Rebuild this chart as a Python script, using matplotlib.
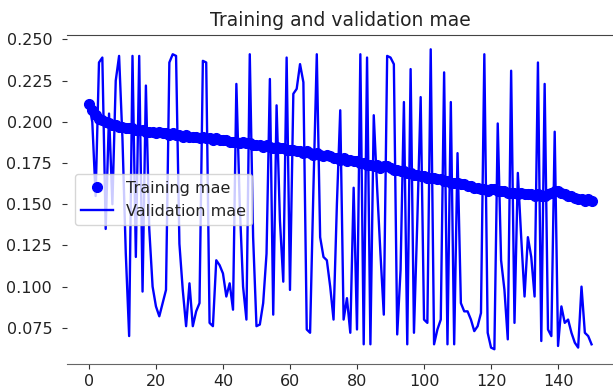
import matplotlib
matplotlib.use('Agg')
import matplotlib.pyplot as plt

# Training / validation MAE per epoch
train_mae = [
    0.211, 0.207, 0.204, 0.202, 0.201, 0.200, 0.199, 0.198, 0.198, 0.197,
    0.197, 0.196, 0.196, 0.196, 0.195, 0.195, 0.195, 0.194, 0.194, 0.194,
    0.193, 0.194, 0.193, 0.193, 0.192, 0.193, 0.192, 0.192, 0.191, 0.192,
    0.191, 0.191, 0.191, 0.190, 0.191, 0.190, 0.190, 0.189, 0.190, 0.189,
    0.189, 0.189, 0.188, 0.188, 0.188, 0.187, 0.188, 0.187, 0.187, 0.186,
    0.186, 0.186, 0.185, 0.186, 0.185, 0.184, 0.185, 0.184, 0.184, 0.183,
    0.183, 0.183, 0.182, 0.182, 0.181, 0.182, 0.181, 0.180, 0.181, 0.180,
    0.179, 0.180, 0.179, 0.178, 0.178, 0.177, 0.178, 0.176, 0.177, 0.176,
    0.176, 0.175, 0.175, 0.174, 0.174, 0.173, 0.174, 0.172, 0.173, 0.173,
    0.172, 0.171, 0.171, 0.170, 0.170, 0.169, 0.169, 0.168, 0.168, 0.167,
    0.167, 0.166, 0.166, 0.166, 0.165, 0.165, 0.164, 0.164, 0.163, 0.163,
    0.163, 0.162, 0.162, 0.161, 0.161, 0.160, 0.160, 0.159, 0.159, 0.158,
    0.159, 0.159, 0.158, 0.158, 0.158, 0.157, 0.157, 0.157, 0.156, 0.157,
    0.156, 0.156, 0.156, 0.155, 0.156, 0.155, 0.155, 0.156, 0.157, 0.158,
    0.158, 0.157, 0.156, 0.155, 0.155, 0.154, 0.153, 0.153, 0.152, 0.153,
    0.152,
]

val_mae = [
    0.211, 0.200, 0.155, 0.236, 0.239, 0.135, 0.205, 0.150, 0.225, 0.240,
    0.190, 0.120, 0.070, 0.240, 0.118, 0.240, 0.097, 0.222, 0.135, 0.100,
    0.088, 0.082, 0.090, 0.098, 0.236, 0.241, 0.240, 0.126, 0.098, 0.076,
    0.102, 0.076, 0.085, 0.090, 0.237, 0.236, 0.078, 0.076, 0.116, 0.113,
    0.108, 0.094, 0.102, 0.086, 0.223, 0.150, 0.100, 0.080, 0.241, 0.130,
    0.076, 0.077, 0.090, 0.120, 0.226, 0.083, 0.210, 0.140, 0.103, 0.239,
    0.098, 0.217, 0.220, 0.235, 0.224, 0.074, 0.072, 0.160, 0.241, 0.130,
    0.118, 0.116, 0.100, 0.080, 0.150, 0.207, 0.080, 0.093, 0.072, 0.160,
    0.074, 0.241, 0.065, 0.239, 0.065, 0.204, 0.160, 0.120, 0.083, 0.240,
    0.239, 0.235, 0.071, 0.110, 0.212, 0.065, 0.232, 0.072, 0.140, 0.215,
    0.080, 0.078, 0.244, 0.065, 0.074, 0.080, 0.230, 0.065, 0.212, 0.065,
    0.181, 0.090, 0.085, 0.085, 0.080, 0.073, 0.076, 0.084, 0.241, 0.072,
    0.063, 0.062, 0.199, 0.116, 0.098, 0.068, 0.231, 0.078, 0.169, 0.130,
    0.094, 0.130, 0.118, 0.094, 0.236, 0.067, 0.223, 0.074, 0.070, 0.194,
    0.064, 0.088, 0.078, 0.080, 0.072, 0.066, 0.063, 0.100, 0.072, 0.070,
    0.065,
]

epochs = list(range(len(train_mae)))

fig = plt.figure(figsize=(6.13, 3.91), dpi=100)
ax = fig.add_axes([0.109, 0.068, 0.891, 0.843])

ax.plot(epochs, train_mae, 'bo', markersize=7, label='Training mae')
ax.plot(epochs, val_mae, 'b', linewidth=1.7, label='Validation mae')

ax.set_title('Training and validation mae', fontsize=13.5, color='#222222')
ax.set_xlim(-6.6, 156.4)
ax.set_ylim(0.0528, 0.2528)
ax.set_xticks([0, 20, 40, 60, 80, 100, 120, 140])
ax.set_yticks([0.075, 0.100, 0.125, 0.150, 0.175, 0.200, 0.225, 0.250])
ax.tick_params(labelsize=11.5, labelcolor='#222222', color='#333333')
ax.tick_params(axis='y', pad=7)

ax.spines['left'].set_visible(False)
ax.spines['right'].set_visible(False)
ax.spines['top'].set_color('#444444')
ax.spines['bottom'].set_color('#666666')

leg = ax.legend(loc='center left', fontsize=11.5)
for t in leg.get_texts():
    t.set_color('#222222')

plt.savefig('out.png', dpi=100)
